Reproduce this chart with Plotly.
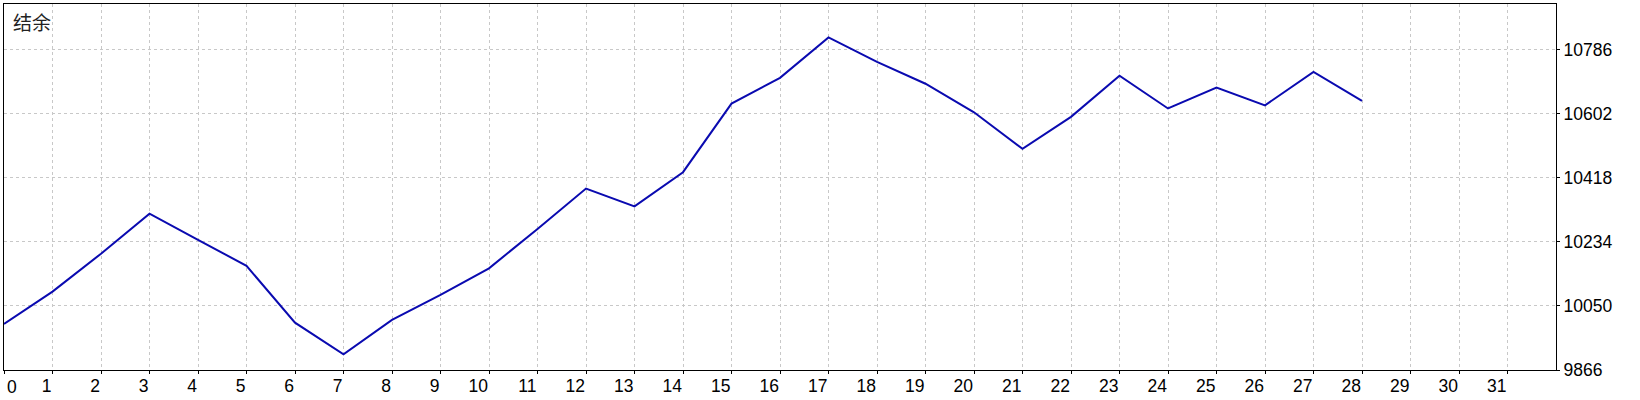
import plotly.graph_objects as go

# ---- data ----
days = list(range(29))
balance = [9998, 10091, 10200, 10315, 10240, 10165, 10002, 9911, 10010, 10082,
           10158, 10271, 10387, 10336, 10434, 10631, 10705, 10821, 10751, 10688,
           10606, 10501, 10593, 10711, 10617, 10677, 10626, 10722, 10639]
x_ticks = list(range(32))
y_ticks = [9866, 10050, 10234, 10418, 10602, 10786]
title_text = "结余"

FONT = "Liberation Sans"
fig = go.Figure()
fig.add_trace(go.Scatter(x=days, y=balance, mode="lines",
                         line=dict(color="#0A0AB0", width=2), hoverinfo="skip"))

fig.update_layout(
    width=1640, height=400,
    margin=dict(l=4, r=84, t=4, b=30),
    paper_bgcolor="white", plot_bgcolor="white",
    showlegend=False,
    font=dict(family=FONT, size=17.5, color="black"),
    xaxis=dict(
        range=[0, 32], tickmode="array", tickvals=x_ticks,
        ticktext=["" if t == 0 else str(t) for t in x_ticks],
        ticklabelposition="outside left",
        ticks="outside", ticklen=3, tickcolor="black", tickwidth=1,
        showgrid=True, gridcolor="#C8C8C8", griddash="3px,3px", gridwidth=1,
        showline=True, linecolor="black", linewidth=1, mirror=True,
        zeroline=False, fixedrange=True, automargin=False,
    ),
    yaxis=dict(
        range=[9866, 10917], side="right", tickmode="array", tickvals=y_ticks,
        ticktext=[str(v) for v in y_ticks],
        ticks="outside", ticklen=3, tickcolor="black", tickwidth=1,
        showgrid=True, gridcolor="#C8C8C8", griddash="3px,3px", gridwidth=1,
        showline=True, linecolor="black", linewidth=1, mirror=True,
        zeroline=False, fixedrange=True, automargin=False,
    ),
)

fig.add_annotation(x=x_ticks[0], y=0, xref="x", yref="paper", text=str(x_ticks[0]),
                   showarrow=False, xanchor="left", yanchor="top", xshift=1, yshift=-5,
                   font=dict(family=FONT, size=17.5, color="black"))
fig.add_annotation(x=0, y=1, xref="paper", yref="paper", text=title_text,
                   showarrow=False, xanchor="left", yanchor="top", xshift=7, yshift=-2,
                   font=dict(family="Noto Sans CJK SC", size=19, color="#222222"))

fig.write_html("out.html", config={"displayModeBar": False},
               post_script="document.body.style.margin='0';document.body.style.overflow='hidden';")
